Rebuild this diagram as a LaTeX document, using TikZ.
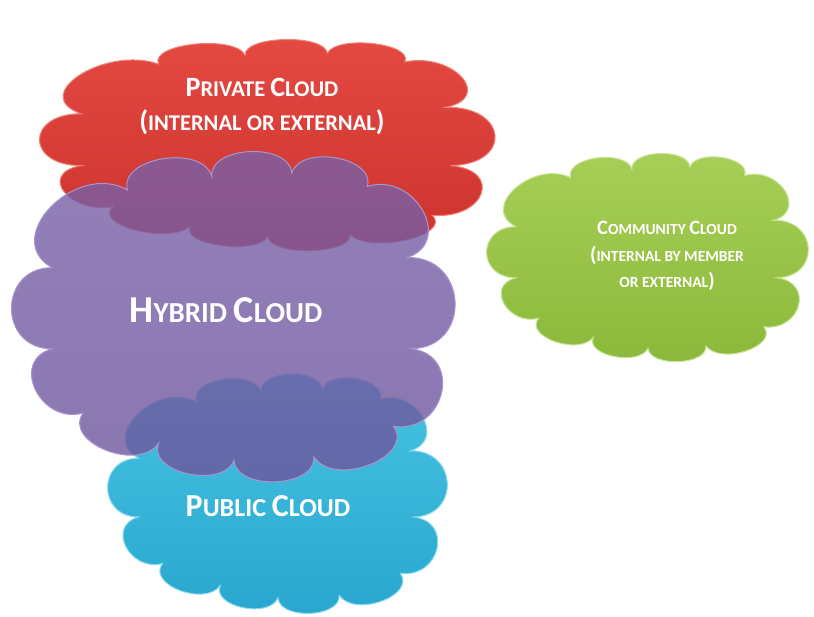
\documentclass[tikz,border=0pt]{standalone}
\usepackage{fontspec}
\setmainfont{Carlito}

\definecolor{privtop}{RGB}{228,74,66}
\definecolor{privbot}{RGB}{204,50,46}
\definecolor{privrim}{RGB}{240,130,122}
\definecolor{hybtop}{RGB}{122,97,168}
\definecolor{hybbot}{RGB}{108,84,156}
\definecolor{hybrim}{RGB}{170,150,205}
\definecolor{pubtop}{RGB}{72,196,226}
\definecolor{pubbot}{RGB}{40,166,206}
\definecolor{pubrim}{RGB}{140,220,240}
\definecolor{comtop}{RGB}{168,207,88}
\definecolor{combot}{RGB}{138,184,58}
\definecolor{comrim}{RGB}{200,228,150}

% large first letter, rest of the word in small capitals
\newcommand\bc[1]{{\fontsize{\capsz}{\capsz}\selectfont#1}}
% outline of one cloud in the unit square (valleys between the puffs)
\newcommand\cloudshape{(0.09,0.36) to[puff] (0.26,0.13) to[puff] (0.45,0.09)
  to[puff] (0.63,0.08) to[puff] (0.80,0.12) to[puff] (0.89,0.33)
  to[puff] (0.90,0.60) to[puff] (0.86,0.83) to[puff] (0.68,0.92)
  to[puff] (0.50,0.93) to[puff] (0.33,0.88) to[puff] (0.16,0.79)
  to[puff] (0.09,0.60) to[puff] (0.09,0.36) -- cycle}

\tikzset{
  puff/.style={bend left=90, looseness=1.3},
  cloudtext/.style n args={3}{font=\def\capsz{#1}\fontsize{#2}{#3}\selectfont\bfseries,
    text=white, align=center, inner sep=0pt}
}

\begin{document}
\begin{tikzpicture}[x=1pt,y=-1pt]
  \useasboundingbox (0,0) rectangle (814,617);

  % clouds
  \path[shift={(40,36)}, xscale=456, yscale=216, line width=1pt,
    top color=privtop, bottom color=privbot, draw=privrim] \cloudshape;
  \path[shift={(108,370)}, xscale=340, yscale=245, line width=1pt,
    top color=pubtop, bottom color=pubbot, draw=pubrim] \cloudshape;
  \path[shift={(12,146)}, xscale=444, yscale=338, line width=1pt, fill opacity=0.8,
    top color=hybtop, bottom color=hybbot, draw=hybrim] \cloudshape;
  \path[shift={(487,150)}, xscale=322, yscale=213, line width=1pt,
    top color=comtop, bottom color=combot, draw=comrim] \cloudshape;

  % labels
  \node[cloudtext={28}{22.5}{34}] (privlabel) at (262,106)
    {\bc{P}RIVATE \bc{C}LOUD\\\bc{(}INTERNAL OR EXTERNAL\bc{)}};
  \node[cloudtext={38}{29}{30}] (hyblabel) at (226,310) {\bc{H}YBRID \bc{C}LOUD};
  \node[cloudtext={32}{26}{24}] (publabel) at (268,506) {\bc{P}UBLIC \bc{C}LOUD};
  \node[cloudtext={20.5}{15.5}{26.5}] (comlabel) at (667,256)
    {\bc{C}OMMUNITY \bc{C}LOUD\\\bc{(}INTERNAL BY MEMBER\\OR EXTERNAL\bc{)}};
\end{tikzpicture}
\end{document}
